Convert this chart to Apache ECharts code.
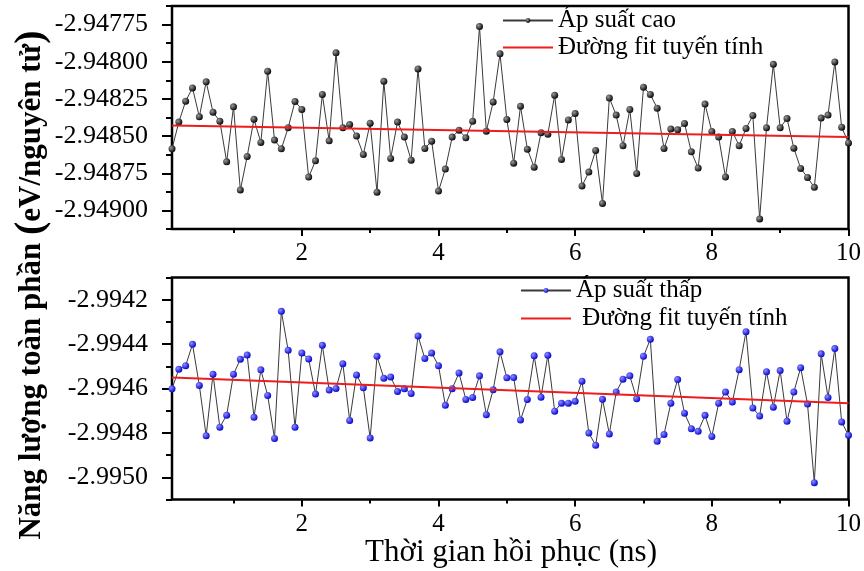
<!DOCTYPE html>
<html>
<head>
<meta charset="utf-8">
<script src="https://cdn.jsdelivr.net/npm/echarts@6/dist/echarts.min.js"></script>
<style>
html,body{margin:0;padding:0;background:#fff;}
#chart{width:864px;height:571px;}
</style>
</head>
<body>
<div id="chart"></div>
<script>
// ---- data ----
const timeNs = [0.1,0.2,0.3,0.4,0.5,0.6,0.7,0.8,0.9,1.0,
  1.1,1.2,1.3,1.4,1.5,1.6,1.7,1.8,1.9,2.0,
  2.1,2.2,2.3,2.4,2.5,2.6,2.7,2.8,2.9,3.0,
  3.1,3.2,3.3,3.4,3.5,3.6,3.7,3.8,3.9,4.0,
  4.1,4.2,4.3,4.4,4.5,4.6,4.7,4.8,4.9,5.0,
  5.1,5.2,5.3,5.4,5.5,5.6,5.7,5.8,5.9,6.0,
  6.1,6.2,6.3,6.4,6.5,6.6,6.7,6.8,6.9,7.0,
  7.1,7.2,7.3,7.4,7.5,7.6,7.7,7.8,7.9,8.0,
  8.1,8.2,8.3,8.4,8.5,8.6,8.7,8.8,8.9,9.0,
  9.1,9.2,9.3,9.4,9.5,9.6,9.7,9.8,9.9,10.0];

const highPressure = [
  -2.948586,-2.948406,-2.948265,-2.948176,-2.948370,-2.948135,-2.948339,-2.948400,-2.948673,-2.948303,
  -2.948863,-2.948637,-2.948386,-2.948543,-2.948064,-2.948527,-2.948586,-2.948444,-2.948267,-2.948321,
  -2.948776,-2.948666,-2.948220,-2.948532,-2.947940,-2.948444,-2.948422,-2.948500,-2.948624,-2.948413,
  -2.948877,-2.948131,-2.948650,-2.948406,-2.948507,-2.948662,-2.948048,-2.948583,-2.948534,-2.948870,
  -2.948722,-2.948507,-2.948460,-2.948512,-2.948400,-2.947763,-2.948467,-2.948270,-2.947947,-2.948388,
  -2.948682,-2.948299,-2.948588,-2.948709,-2.948478,-2.948487,-2.948225,-2.948657,-2.948391,-2.948348,
  -2.948836,-2.948742,-2.948597,-2.948953,-2.948243,-2.948359,-2.948565,-2.948321,-2.948751,-2.948171,
  -2.948220,-2.948312,-2.948583,-2.948453,-2.948458,-2.948415,-2.948606,-2.948715,-2.948285,-2.948469,
  -2.948507,-2.948776,-2.948469,-2.948565,-2.948449,-2.948362,-2.949058,-2.948444,-2.948017,-2.948444,
  -2.948382,-2.948581,-2.948718,-2.948778,-2.948845,-2.948379,-2.948359,-2.948001,-2.948440,-2.948547];

const lowPressure = [
  -2.994601,-2.994513,-2.994497,-2.994401,-2.994586,-2.994813,-2.994536,-2.994774,-2.994720,-2.994536,
  -2.994468,-2.994449,-2.994730,-2.994516,-2.994631,-2.994825,-2.994252,-2.994428,-2.994775,-2.994440,
  -2.994467,-2.994625,-2.994405,-2.994607,-2.994600,-2.994488,-2.994744,-2.994539,-2.994597,-2.994823,
  -2.994455,-2.994554,-2.994548,-2.994613,-2.994601,-2.994622,-2.994363,-2.994465,-2.994440,-2.994497,
  -2.994676,-2.994601,-2.994530,-2.994649,-2.994640,-2.994543,-2.994718,-2.994606,-2.994435,-2.994552,
  -2.994551,-2.994742,-2.994649,-2.994453,-2.994639,-2.994450,-2.994702,-2.994666,-2.994666,-2.994657,
  -2.994567,-2.994801,-2.994856,-2.994648,-2.994805,-2.994616,-2.994558,-2.994543,-2.994646,-2.994455,
  -2.994378,-2.994838,-2.994807,-2.994666,-2.994560,-2.994711,-2.994781,-2.994793,-2.994721,-2.994816,
  -2.994666,-2.994616,-2.994661,-2.994515,-2.994344,-2.994688,-2.994724,-2.994524,-2.994684,-2.994519,
  -2.994748,-2.994616,-2.994506,-2.994670,-2.995024,-2.994444,-2.994640,-2.994420,-2.994751,-2.994811];

const fitX = [0.1, 10];
const fitHigh = [-2.948429, -2.948507];
const fitLow = [-2.994551, -2.994667];

const xMajorTicks = [2, 4, 6, 8, 10];
const xMinorTicks = [1, 3, 5, 7, 9];
const topYMajorTicks = [-2.949, -2.94875, -2.9485, -2.94825, -2.948, -2.94775];
const topYMinorTicks = [-2.949125, -2.948875, -2.948625, -2.948375, -2.948125, -2.947875, -2.947625];
const botYMajorTicks = [-2.995, -2.9948, -2.9946, -2.9944, -2.9942];
const botYMinorTicks = [-2.9951, -2.9949, -2.9947, -2.9945, -2.9943, -2.9941];

const seriesNames = ['Áp suất cao', 'Đường fit tuyến tính', 'Áp suất thấp', ' Đường fit tuyến tính'];
const xTitle = 'Thời gian hồi phục (ns)';
const yTitleMain = 'Năng lượng toàn phần ';
const yTitleUnit = 'eV/nguyên tử';

// ---- chart ----
const FONT = '"Liberation Serif", "Times New Roman", serif';
const chart = echarts.init(document.getElementById('chart'));

function zip(xs, ys) { return xs.map((x, i) => [x, ys[i]]); }

const XMIN = 0.1, XMAX = 10;
const TOP = { min: -2.949125, max: -2.947625 };
const BOT = { min: -2.9951, max: -2.9941 };

function mainX(gridIndex) {
  return {
    type: 'value', gridIndex, min: XMIN, max: XMAX, position: 'bottom',
    axisLine: { show: false },
    splitLine: { show: false },
    axisTick: { show: true, inside: false, length: 7, customValues: xMajorTicks,
      lineStyle: { color: '#000', width: 2 } },
    axisLabel: { show: true, customValues: xMajorTicks, margin: 12,
      color: '#000', fontFamily: FONT, fontSize: 25,
      formatter: v => String(Math.round(v)) }
  };
}
function minorX(gridIndex) {
  return {
    type: 'value', gridIndex, min: XMIN, max: XMAX, position: 'bottom',
    axisLine: { show: false }, splitLine: { show: false },
    axisLabel: { show: false },
    axisTick: { show: true, length: 4, customValues: xMinorTicks,
      lineStyle: { color: '#000', width: 2 } }
  };
}
function mainY(gridIndex, rng, ticks, digits) {
  return {
    type: 'value', gridIndex, min: rng.min, max: rng.max, position: 'left',
    axisLine: { show: false }, splitLine: { show: false },
    axisTick: { show: true, length: 10, customValues: ticks,
      lineStyle: { color: '#000', width: 2 } },
    axisLabel: { show: true, customValues: ticks, margin: 24,
      color: '#000', fontFamily: FONT, fontSize: 26,
      formatter: v => v.toFixed(digits) }
  };
}
function minorY(gridIndex, rng, ticks) {
  return {
    type: 'value', gridIndex, min: rng.min, max: rng.max, position: 'left',
    axisLine: { show: false }, splitLine: { show: false },
    axisLabel: { show: false },
    axisTick: { show: true, length: 6, customValues: ticks,
      lineStyle: { color: '#000', width: 2 } }
  };
}

function ball(c1, c2) {
  return { type: 'radial', x: 0.35, y: 0.35, r: 0.7,
    colorStops: [{ offset: 0, color: c1 }, { offset: 1, color: c2 }] };
}

const legendText = { fontFamily: FONT, fontSize: 25, color: '#000' };

const option = {
  backgroundColor: '#fff',
  animation: false,
  grid: [
    { left: 172, right: 15, top: 6, height: 223, show: true, borderColor: '#000', borderWidth: 2.5, backgroundColor: 'transparent' },
    { left: 172, right: 15, top: 277.5, height: 222, show: true, borderColor: '#000', borderWidth: 2.5, backgroundColor: 'transparent' }
  ],
  xAxis: [mainX(0), minorX(0), mainX(1), minorX(1)],
  yAxis: [
    mainY(0, TOP, topYMajorTicks, 5), minorY(0, TOP, topYMinorTicks),
    mainY(1, BOT, botYMajorTicks, 4), minorY(1, BOT, botYMinorTicks)
  ],
  legend: [
    { left: 502, top: 8, orient: 'vertical', itemWidth: 50, itemHeight: 6, itemGap: 2, padding: 0,
      data: [seriesNames[0], { name: seriesNames[1], itemStyle: { opacity: 0 } }],
      textStyle: legendText },
    { left: 520, top: 278, orient: 'vertical', itemWidth: 50, itemHeight: 6, itemGap: 3, padding: 0,
      data: [seriesNames[2], { name: seriesNames[3], itemStyle: { opacity: 0 } }],
      textStyle: legendText }
  ],
  series: [
    { name: seriesNames[0], type: 'line', xAxisIndex: 0, yAxisIndex: 0,
      data: zip(timeNs, highPressure), symbol: 'circle', symbolSize: 7,
      lineStyle: { color: '#3a3a3a', width: 1 },
      itemStyle: { color: ball('#9a9a9a', '#000') }, z: 3 },
    { name: seriesNames[1], type: 'line', xAxisIndex: 0, yAxisIndex: 0,
      data: zip(fitX, fitHigh), symbol: 'none',
      lineStyle: { color: '#ee1c1c', width: 2 }, itemStyle: { color: '#ee1c1c' }, z: 4 },
    { name: seriesNames[2], type: 'line', xAxisIndex: 2, yAxisIndex: 2,
      data: zip(timeNs, lowPressure), symbol: 'circle', symbolSize: 7,
      lineStyle: { color: '#3a3a3a', width: 1 },
      itemStyle: { color: ball('#8f8fff', '#0000d0') }, z: 3 },
    { name: seriesNames[3], type: 'line', xAxisIndex: 2, yAxisIndex: 2,
      data: zip(fitX, fitLow), symbol: 'none',
      lineStyle: { color: '#ee1c1c', width: 2 }, itemStyle: { color: '#ee1c1c' }, z: 4 }
  ],
  graphic: [
    { type: 'text', x: 511, y: 553, silent: true,
      style: { text: xTitle, fontFamily: FONT, fontSize: 31, fill: '#000',
        align: 'center', verticalAlign: 'middle' } },
    { type: 'text', x: 32, y: 285, rotation: Math.PI / 2, silent: true,
      style: {
        text: '{m|' + yTitleMain + '}{p|(}{m|' + yTitleUnit + '}{p|)}',
        align: 'center', verticalAlign: 'middle',
        rich: {
          m: { fontFamily: FONT, fontSize: 31, fontWeight: 'bold', fill: '#000' },
          p: { fontFamily: FONT, fontSize: 40, fontWeight: 'bold', fill: '#000' }
        }
      } }
  ]
};
chart.setOption(option);
</script>
</body>
</html>
